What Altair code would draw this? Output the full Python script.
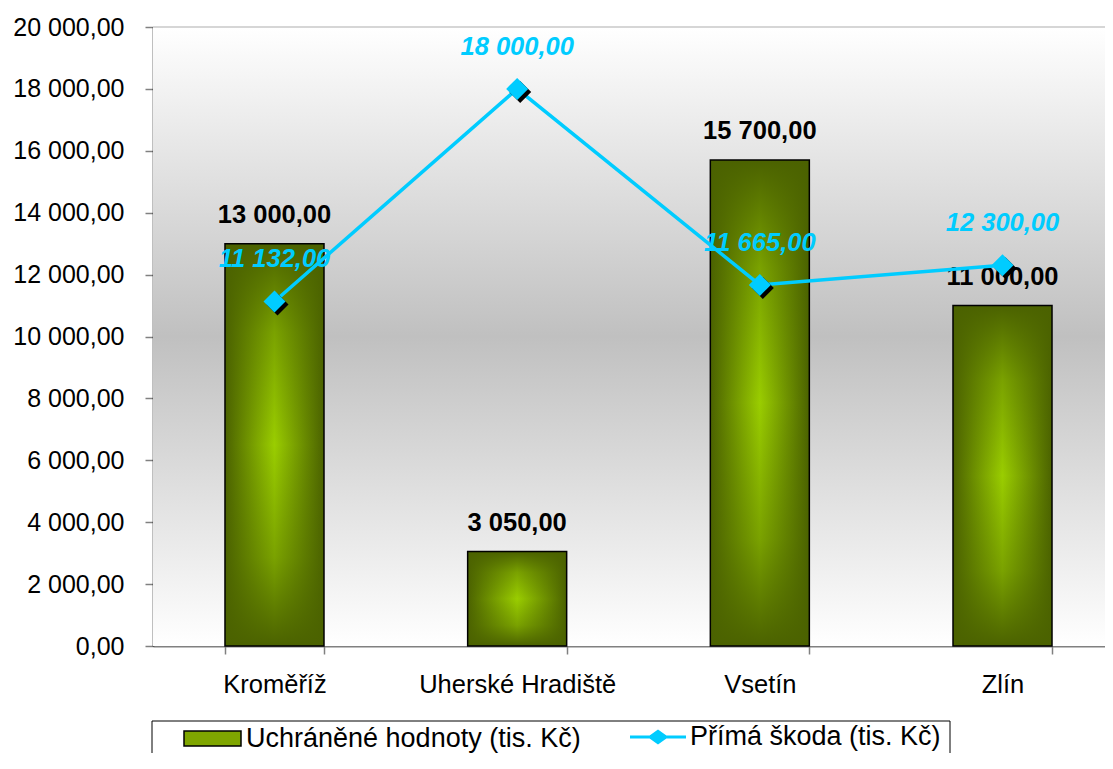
import altair as alt
import pandas as pd

# ---- data ----
categories = ["Kroměříž", "Uherské Hradiště", "Vsetín", "Zlín"]
bar_values = [13000.00, 3050.00, 15700.00, 11000.00]
line_values = [11132.00, 18000.00, 11665.00, 12300.00]
y_ticks = [0, 2000, 4000, 6000, 8000, 10000, 12000, 14000, 16000, 18000, 20000]
bar_series = "Uchráněné hodnoty (tis. Kč)"
line_series = "Přímá škoda (tis. Kč)"


def cz(v):
    return f"{v:,.2f}".replace(",", " ").replace(".", ",")


df = pd.DataFrame({
    "cat": categories,
    "bar": bar_values,
    "line": line_values,
    "bar_lbl": [cz(v) for v in bar_values],
    "line_lbl": [cz(v) for v in line_values],
    "bs": [bar_series] * 4,
    "ls": [line_series] * 4,
})

W, H = 952, 619
FONT = "Liberation Sans, Arial"
CYAN = "#00CCFF"
DARK = "#4B6200"
BRIGHT = "#9ACD00"

x_enc = alt.X("cat:N", sort=categories, title=None,
              scale=alt.Scale(paddingInner=0.592, paddingOuter=0.2575, align=0.576),
              axis=alt.Axis(labelAngle=0, labelFontSize=25.5, labelFont=FONT, labelColor="black",
                            labelLimit=400,
                            domainColor="#808080", domainWidth=2, tickColor="#808080", tickWidth=1.5,
                            tickSize=8, tickBand="extent", labelPadding=18))
y_scale = alt.Scale(domain=[0, 20000], nice=False, zero=True)
y_axis = alt.Axis(values=y_ticks, grid=False, labelFontSize=25, labelFont=FONT, labelColor="black",
                  domainColor="black", domainWidth=1.5, tickColor="#808080", tickWidth=1.5,
                  tickSize=8, labelPadding=21,
                  labelExpr="replace(replace(format(datum.value, ',.2f'), regexp(',', 'g'), ' '), '.', ',')")

one = alt.Data(values=[{"k": 1}])

background = alt.Chart(one).mark_rect(
    fill=alt.Gradient(gradient="linear", x1=0, y1=0, x2=0, y2=1,
                      stops=[alt.GradientStop(offset=0, color="#ffffff"),
                             alt.GradientStop(offset=0.5, color="#c0c0c0"),
                             alt.GradientStop(offset=1, color="#ffffff")])
).encode(x=alt.value(0), x2=alt.value(W), y=alt.value(0), y2=alt.value(H))

top_line = alt.Chart(one).mark_rule(color="#d6d6d6", strokeWidth=2).encode(
    x=alt.value(0), x2=alt.value(W), y=alt.value(0))

base = alt.Chart(df)

bars_h = base.mark_bar(
    fill=alt.Gradient(gradient="linear", x1=0, y1=0, x2=1, y2=0,
                      stops=[alt.GradientStop(offset=0, color=DARK),
                             alt.GradientStop(offset=0.5, color=BRIGHT),
                             alt.GradientStop(offset=1, color=DARK)])
).encode(x=x_enc, y=alt.Y("bar:Q", scale=y_scale, axis=y_axis, title=None))

bars_v = base.mark_bar(
    fill=alt.Gradient(gradient="linear", x1=0, y1=0, x2=0, y2=1,
                      stops=[alt.GradientStop(offset=0, color="rgba(75,98,0,1)"),
                             alt.GradientStop(offset=0.22, color="rgba(75,98,0,0.4)"),
                             alt.GradientStop(offset=0.5, color="rgba(75,98,0,0)"),
                             alt.GradientStop(offset=0.78, color="rgba(75,98,0,0.4)"),
                             alt.GradientStop(offset=1, color="rgba(75,98,0,1)")]),
    stroke="black", strokeWidth=1.5
).encode(x=alt.X("cat:N", sort=categories), y="bar:Q")

LEG_Y = 682

bar_legend = base.mark_bar(opacity=0).encode(
    x=alt.X("cat:N", sort=categories), y="bar:Q",
    fill=alt.Fill("bs:N", scale=alt.Scale(range=["#7FA600"]),
                  legend=alt.Legend(title=None, orient="none", legendX=30, legendY=LEG_Y, padding=0,
                                    symbolType="M-1,-0.263L1,-0.263L1,0.263L-1,0.263Z",
                                    symbolSize=3249, symbolOpacity=1, symbolStrokeColor="black",
                                    symbolStrokeWidth=1.5, labelFontSize=27, labelFont=FONT,
                                    labelColor="black", labelLimit=500)))

bar_labels = base.mark_text(fontSize=25.5, fontWeight="bold", font=FONT, color="black",
                            baseline="middle", dy=-29).encode(
    x=alt.X("cat:N", sort=categories), y="bar:Q", text="bar_lbl:N")

line = base.mark_line(color=CYAN, strokeWidth=3.5).encode(
    x=alt.X("cat:N", sort=categories), y="line:Q")

shadow = base.mark_point(shape="diamond", filled=True, color="black", opacity=1, size=484,
                         xOffset=3, yOffset=3).encode(
    x=alt.X("cat:N", sort=categories), y="line:Q")

diamonds = base.mark_point(shape="diamond", filled=True, color=CYAN, opacity=1, size=484).encode(
    x=alt.X("cat:N", sort=categories), y="line:Q")

line_legend = base.mark_point(opacity=0, filled=True).encode(
    x=alt.X("cat:N", sort=categories), y="line:Q",
    fill=alt.Fill("ls:N", scale=alt.Scale(range=[CYAN]),
                  legend=alt.Legend(title=None, orient="none", legendX=477, legendY=LEG_Y, padding=0,
                                    symbolType="M-1,-0.054L-0.3,-0.054L0,-0.27L0.3,-0.054L1,-0.054L1,0.054L0.3,0.054L0,0.27L-0.3,0.054L-1,0.054Z",
                                    symbolSize=3136, symbolOpacity=1, symbolStrokeWidth=0,
                                    labelFontSize=27, labelFont=FONT,
                                    labelColor="black", labelLimit=500)))

line_labels = base.mark_text(fontSize=25.5, fontWeight="bold", fontStyle="italic", font=FONT,
                             color=CYAN, baseline="middle", dy=-42).encode(
    x=alt.X("cat:N", sort=categories), y="line:Q", text="line_lbl:N")

legend_box = alt.Chart(one).mark_rect(fill="transparent", stroke="black", strokeWidth=1).encode(
    x=alt.value(-1), x2=alt.value(797), y=alt.value(694), y2=alt.value(760))

chart = alt.layer(
    background, top_line, bars_h, bars_v, bar_legend, bar_labels, line, shadow, diamonds,
    line_legend, line_labels, legend_box
).resolve_scale(fill="independent").properties(
    width=W, height=H,
    autosize=alt.AutoSizeParams(type="none"),
    padding={"left": 145, "top": 19, "right": 0, "bottom": 107},
    background="white",
).configure_view(stroke=None)

chart.save("out.html", embed_options={"renderer": "svg", "actions": False})
